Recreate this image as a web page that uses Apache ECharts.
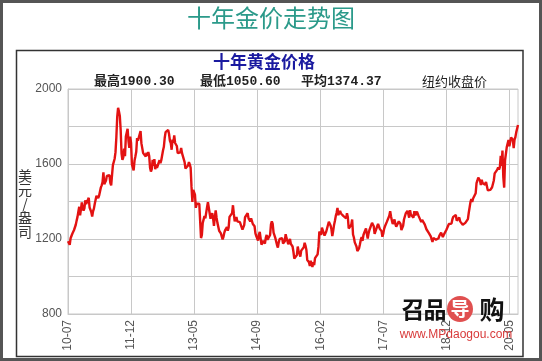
<!DOCTYPE html>
<html><head><meta charset="utf-8">
<script src="https://cdn.jsdelivr.net/npm/echarts@6/dist/echarts.min.js"></script>
<style>html,body{margin:0;padding:0;background:#fff}#c{width:542px;height:361px}</style>
</head><body><div id="c"></div>
<script>
// Weekly NY close (Fridays), starting 2010-07-16
const startDate = '2010-07-16';
const y2010 = [1188,1189,1169,1204,1216,1228,1236,1248,1246,1276,1298,1318,1346,1372,1326,1358,1395,1366,1352,1364,1406,1386,1376,1380,1420];
const y2011 = [1368,1360,1343,1320, 1348,1362,1388,1410, 1430,1421,1418,1431, 1430,1474,1486,1504,1556, 1492,1493,1512,1536, 1542,1530,1540,1500, 1486,1542,1594,1602,1628, 1663,1744,1852,1900, 1880,1856,1780,1656,1622, 1636,1682,1642,1746, 1756,1788,1724,1686, 1746,1712,1598,1606,1566];
const y2012 = [1617,1640,1665,1738, 1725,1722,1725,1775, 1710,1712,1658,1662,1668, 1640,1660,1643,1664, 1643,1580,1560,1573, 1622,1590,1626,1572,1598, 1580,1590,1582,1620, 1604,1620,1616,1672,1692, 1740,1770,1774,1772, 1782,1760,1724,1712, 1676,1730,1714,1752,1712, 1704,1696,1658,1660];
const y2013 = [1650,1662,1686,1658, 1668,1668,1610,1576, 1574,1578,1592,1610,1598, 1580,1478,1398,1462, 1468,1436,1366,1388,1392, 1383,1388,1296,1205, 1222,1286,1296,1322, 1310,1312,1370,1396,1396, 1388,1308,1326,1338, 1310,1270,1316,1352, 1314,1286,1288,1244,1250, 1230,1236,1198,1212];
const y2014 = [1234,1248,1254,1264,1244, 1262,1318,1324,1326, 1338,1380,1334,1294, 1302,1318,1294,1300, 1300,1290,1294,1292,1250, 1252,1274,1316,1316, 1320,1338,1310,1304, 1294,1310,1306,1280,1286, 1268,1230,1216,1214, 1192,1222,1238,1232,1170, 1170,1190,1196,1176, 1206,1222,1196,1196];
const y2015 = [1186,1222,1278,1294,1280, 1234,1228,1206,1212, 1168,1154,1182,1200, 1200,1206,1204,1176, 1176,1188,1226,1204,1190, 1172,1180,1200,1174, 1166,1160,1132,1096,1094, 1094,1114,1160,1134, 1122,1106,1138,1146, 1136,1156,1180,1164,1142, 1088,1082,1076,1056, 1084,1076,1051,1076];
const y2016 = [1061,1098,1090,1098,1118, 1158,1240,1230,1222, 1260,1250,1254,1218, 1222,1240,1234,1232,1292, 1290,1272,1252,1216, 1242,1274,1296,1322, 1340,1366,1328,1322,1350, 1336,1336,1342,1322, 1326,1328,1310,1338,1316, 1256,1252,1266,1276, 1304,1224,1208,1182, 1176,1160,1136,1132,1150];
const y2017 = [1172,1196,1210,1190, 1220,1234,1238,1256, 1228,1202,1230,1248,1248, 1254,1286,1284,1268, 1228,1228,1254,1268, 1280,1270,1254,1256,1242, 1212,1228,1254,1268, 1258,1290,1286,1292, 1324,1348,1320,1298,1280, 1274,1304,1280,1266, 1270,1274,1294,1288, 1280,1248,1256,1270,1304];
const y2018 = [1320,1336,1334,1350, 1334,1314,1354,1330, 1322,1322,1314,1348,1326, 1332,1346,1336,1322, 1314,1320,1290,1302, 1294,1298,1278,1270,1252, 1254,1242,1230,1224, 1214,1212,1184,1206,1202, 1196,1196,1200,1192, 1204,1218,1228,1234, 1232,1210,1222,1224,1222, 1248,1238,1258,1280];
const y2019 = [1286,1288,1282,1304, 1318,1314,1320,1328, 1298,1298,1302,1314,1294, 1292,1290,1276,1286, 1280,1286,1276,1284,1306, 1340,1344,1398,1412, 1398,1416,1426,1418, 1444,1498,1512,1528,1536, 1512,1488,1516,1498, 1504,1488,1490,1504, 1512,1460,1466,1462,1462, 1460,1476,1478,1512];
const y2020 = [1550,1560,1558,1570,1582, 1570,1584,1644,1590, 1672,1530,1474,1620, 1618,1690,1692,1728, 1694,1704,1742,1734,1730, 1684,1730,1744,1770, 1774,1808];

const tickLabels = ['10-07','11-12','13-05','14-09','16-02','17-07','18-12','20-05'];
const lastLabel = '20-07';
const tickEvery = 73;
const yLabelValues = [800, 1200, 1600, 2000];

const prices = [].concat(y2010,y2011,y2012,y2013,y2014,y2015,y2016,y2017,y2018,y2019,y2020);
const N = prices.length;
const categories = [];
{
  const d0 = new Date(startDate + 'T00:00:00Z');
  for (let i = 0; i < N; i++) {
    const d = new Date(d0.getTime() + i * 7 * 86400000);
    categories.push(d.toISOString().slice(0,10));
  }
}

const chart = echarts.init(document.getElementById('c'), null, {renderer:'canvas'});
const axisFont = 'Liberation Sans, Arial, sans-serif';
const monoFont = 'bold 13px "Liberation Mono", "Noto Sans CJK SC", monospace';
const wmFont = 'bold 23px "Noto Sans CJK SC", sans-serif';
chart.setOption({
  animation: false,
  backgroundColor: '#fff',
  grid: {left: 68, top: 89, right: 24, bottom: 47, containLabel: false, show: true, borderColor: '#c8c8c8', borderWidth: 1},
  xAxis: {
    type: 'category', data: categories, boundaryGap: false,
    axisLine: {show: true, lineStyle: {color: '#c8c8c8'}},
    axisTick: {show: false},
    axisLabel: {
      rotate: 90, color: '#555', fontSize: 12, fontFamily: axisFont, margin: 6,
      interval: (i) => i % tickEvery === 0 || i === N - 1,
      formatter: (v, i) => i === N - 1 ? lastLabel : (tickLabels[i / tickEvery] || '')
    },
    splitLine: {show: true, interval: (i) => i % tickEvery === 0, lineStyle: {color: '#c8c8c8', width: 1}}
  },
  yAxis: {
    type: 'value', min: 800, max: 2000, interval: 200,
    axisLine: {show: true, lineStyle: {color: '#c8c8c8'}},
    axisTick: {show: false},
    axisLabel: {color: '#555', fontSize: 12, fontFamily: axisFont, margin: 6,
      formatter: (v) => yLabelValues.indexOf(v) >= 0 ? String(v) : ''},
    splitLine: {show: true, lineStyle: {color: '#c8c8c8', width: 1}}
  },
  series: [{
    type: 'line', data: prices, showSymbol: false, symbol: 'none',
    lineStyle: {color: '#e31212', width: 2.4}, z: 3
  }],
  graphic: [
    {type: 'rect', shape: {x: 1.5, y: 1.5, width: 539, height: 358}, style: {fill: 'none', stroke: '#555', lineWidth: 3}, silent: true},
    {type: 'rect', shape: {x: 16.5, y: 50.5, width: 506.5, height: 306}, style: {fill: 'none', stroke: '#333', lineWidth: 1.5}, silent: true},
    {type: 'text', x: 271, y: 18, style: {text: '十年金价走势图', font: '24px "Noto Sans CJK SC", sans-serif', fill: '#2b9a8a', textAlign: 'center', textVerticalAlign: 'middle'}},
    {type: 'text', x: 264, y: 62, style: {text: '十年黄金价格', font: 'bold 17px "Noto Sans CJK SC", sans-serif', fill: '#1a1aa0', textAlign: 'center', textVerticalAlign: 'middle'}},
    {type: 'text', x: 94, y: 82, style: {text: '最高1900.30', font: monoFont, fill: '#222', textAlign: 'left', textVerticalAlign: 'middle'}},
    {type: 'text', x: 200, y: 82, style: {text: '最低1050.60', font: monoFont, fill: '#222', textAlign: 'left', textVerticalAlign: 'middle'}},
    {type: 'text', x: 301, y: 82, style: {text: '平均1374.37', font: monoFont, fill: '#222', textAlign: 'left', textVerticalAlign: 'middle'}},
    {type: 'text', x: 422, y: 81, style: {text: '纽约收盘价', font: '13px "Noto Sans CJK SC", sans-serif', fill: '#222', textAlign: 'left', textVerticalAlign: 'middle'}},
    {type: 'text', x: 25, y: 204, style: {text: '美\n元\n/\n盎\n司', font: '14px "Noto Sans CJK SC", sans-serif', lineHeight: 14, fill: '#333', textAlign: 'center', textVerticalAlign: 'middle'}},
    // watermark
    {type: 'text', x: 413, y: 309, z: 10, style: {text: '召', font: wmFont, fill: '#111', textAlign: 'center', textVerticalAlign: 'middle'}},
    {type: 'text', x: 435, y: 309, z: 10, style: {text: '品', font: wmFont, fill: '#111', textAlign: 'center', textVerticalAlign: 'middle'}},
    {type: 'circle', z: 10, shape: {cx: 460, cy: 309, r: 13}, style: {fill: '#e05050'}},
    {type: 'text', x: 460, y: 309, z: 11, style: {text: '导', font: 'bold 19px "Noto Sans CJK SC", sans-serif', fill: '#fff', textAlign: 'center', textVerticalAlign: 'middle'}},
    {type: 'text', x: 492, y: 309, z: 10, style: {text: '购', font: 'bold 25px "Noto Sans CJK SC", sans-serif', fill: '#111', textAlign: 'center', textVerticalAlign: 'middle'}},
    {type: 'text', x: 456, y: 335, z: 10, style: {text: 'www.MPdaogou.com', font: '12px "Liberation Sans", Arial, sans-serif', fill: '#d83a3a', textAlign: 'center', textVerticalAlign: 'middle'}}
  ]
});
</script></body></html>
